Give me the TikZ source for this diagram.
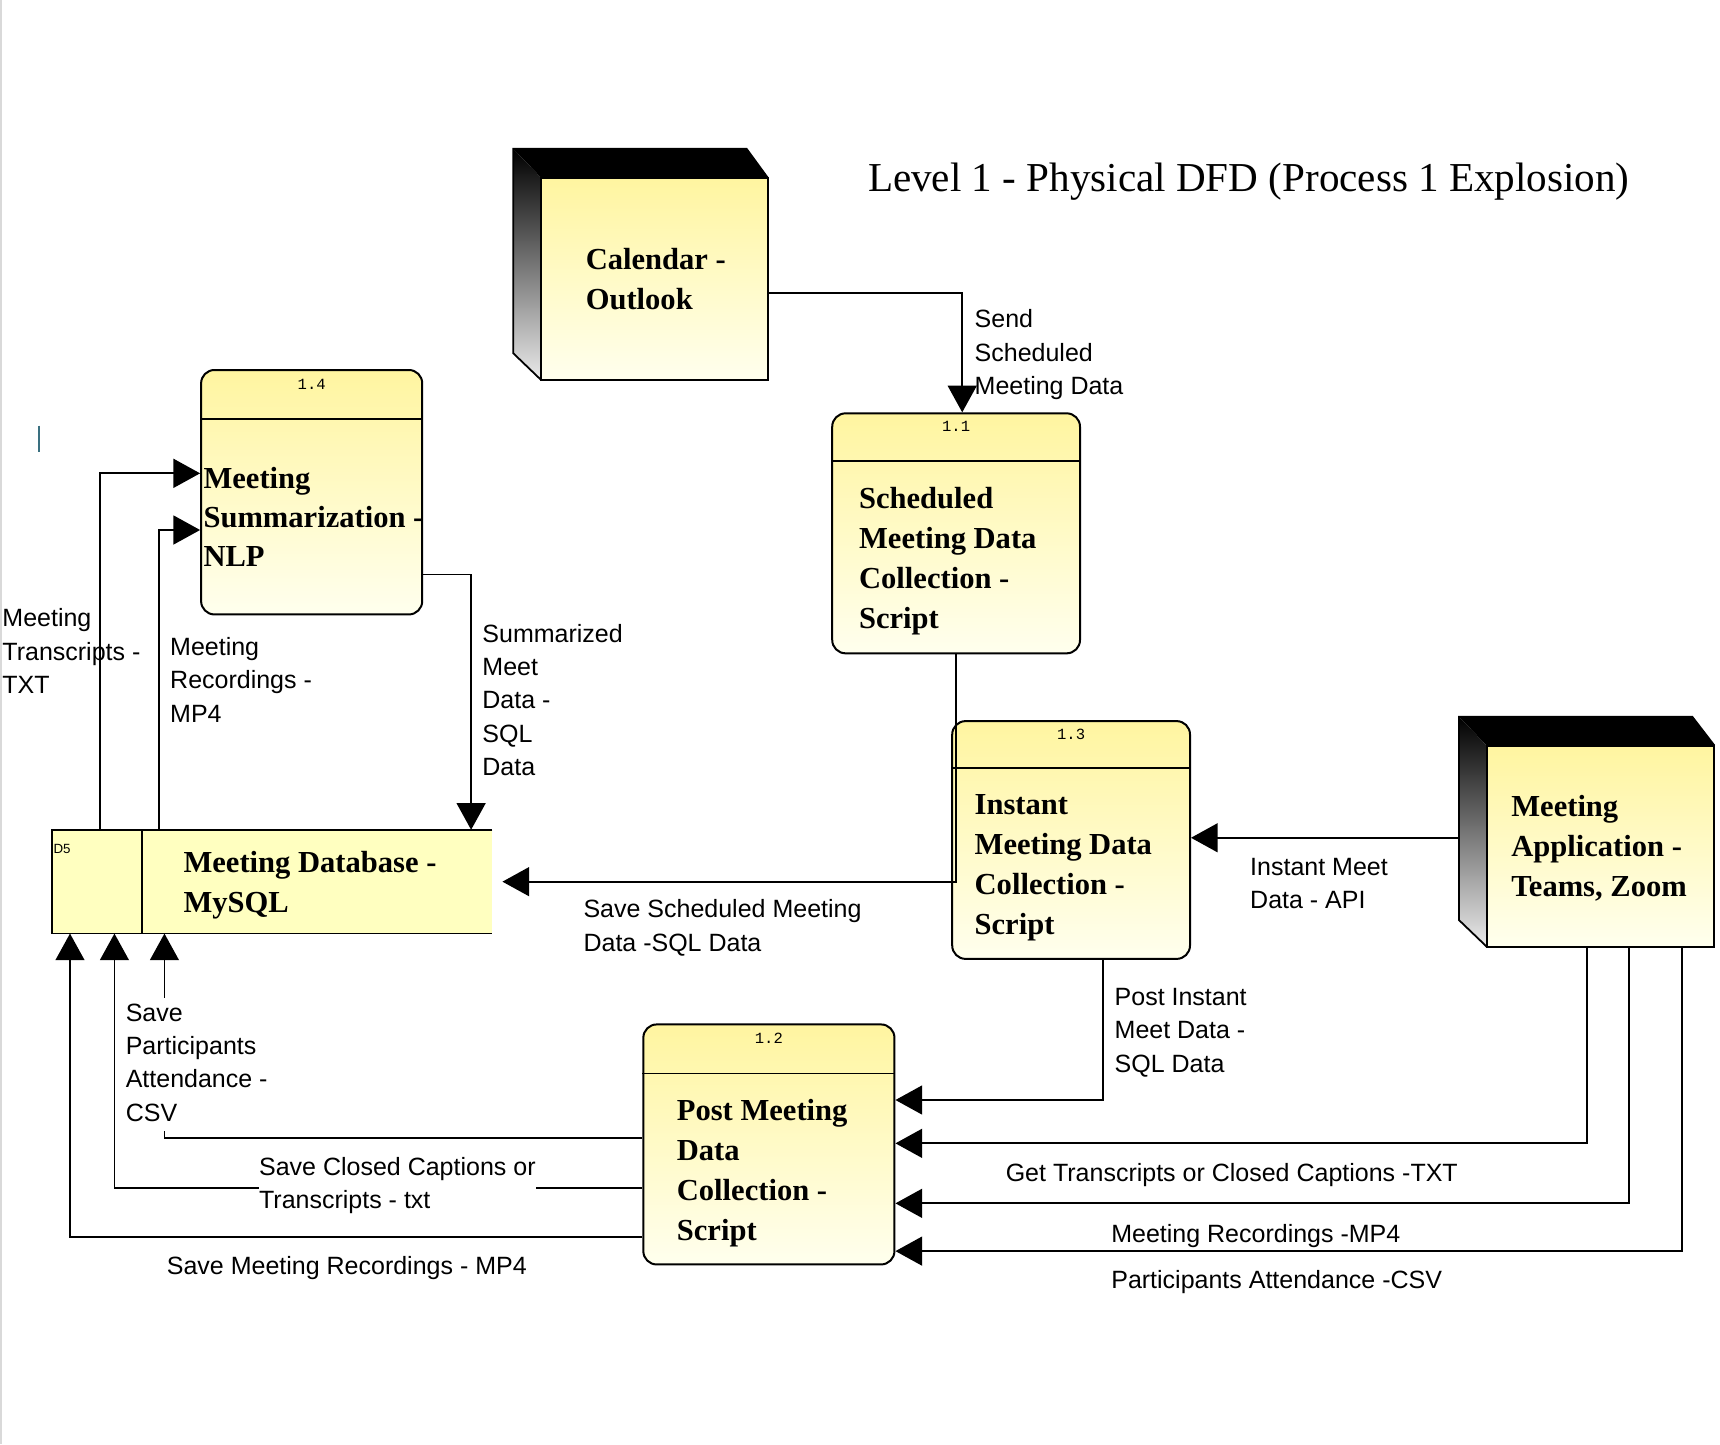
\documentclass[tikz,border=0pt]{standalone}
\usepackage{fontspec}
\setmainfont{Liberation Serif}
\setsansfont{Liberation Sans}
\setmonofont{Liberation Mono}
\usetikzlibrary{arrows.meta,calc}
\definecolor{yelTop}{HTML}{FFF5A0}
\definecolor{yelBot}{HTML}{FFFFEE}
\definecolor{dsFill}{HTML}{FFFFC0}
\definecolor{cursorc}{HTML}{3A7080}
\newcommand{\mlines}[1]{\begin{tabular}[t]{@{}l@{}}#1\end{tabular}}
\begin{document}
\begin{tikzpicture}[x=1pt,y=-1pt,
  flow/.style={line width=1.6pt, -{Triangle[length=24pt,width=26pt]}},
  plain/.style={line width=1.6pt},
  proc/.style={draw, line width=1.8pt, rounded corners=12pt, top color=yelTop, bottom color=yelBot, inner sep=0},
  ent/.style={draw, line width=1.8pt, top color=yelTop, bottom color=yelBot, inner sep=0},
  lab/.style={anchor=base west, inner sep=0, font=\sffamily\fontsize{22.5}{30}\selectfont},
  boldt/.style={anchor=base west, inner sep=0, font=\rmfamily\bfseries\fontsize{27.5}{36}\selectfont},
  pid/.style={font=\ttfamily\fontsize{14}{16}\selectfont, inner sep=0},
]
\useasboundingbox (0,0) rectangle (1548,1300);
\fill[white] (0,0) rectangle (1548,1300);
\draw[black!15, line width=2pt] (1,0) -- (1,1300);

% title
\node[anchor=base west, inner sep=0, font=\rmfamily\fontsize{37}{40}\selectfont] (title) at (781,172) {Level 1 - Physical DFD (Process 1 Explosion)};

% cursor mark
\draw[cursorc, line width=1.5pt] (35,383) -- (35,407);

% Calendar entity
\fill[black] (462,134) -- (672,134) -- (691,160) -- (487,160) -- cycle;
\shade[top color=black, bottom color=black!8] (462,134) -- (487,160) -- (487,342) -- (462,318) -- cycle;
\draw[line width=1.6pt] (487,342) -- (462,318) -- (462,134) -- (672,134) -- (691,160);
\node[ent, minimum width=204pt, minimum height=182pt] (cal) at (589,251) {};
\node[boldt] (calt) at (527,243) {\mlines{Calendar -\\Outlook}};

% Meeting application entity
\fill[black] (1313,645) -- (1523,645) -- (1543,671) -- (1338,671) -- cycle;
\shade[top color=black, bottom color=black!8] (1313,645) -- (1338,671) -- (1338,852) -- (1313,828) -- cycle;
\draw[line width=1.6pt] (1338,852) -- (1313,828) -- (1313,645) -- (1523,645) -- (1543,671);
\node[ent, minimum width=205pt, minimum height=181pt] (app) at (1440.5,761.5) {};
\node[boldt] (appt) at (1360,735) {\mlines{Meeting\\Application -\\Teams, Zoom}};

% processes
\node[proc, minimum width=223pt, minimum height=216pt] (p11) at (860.5,480) {};
\draw[plain] ([yshift=-44pt]p11.north west) -- ([yshift=-44pt]p11.north east);
\node[pid] (n11) at ([yshift=-13pt]p11.north) {1.1};
\node[boldt] (t11) at (773,458) {\mlines{Scheduled\\Meeting Data\\Collection -\\Script}};

\node[proc, minimum width=199pt, minimum height=220pt] (p14) at (280.5,443) {};
\draw[plain] ([yshift=-45pt]p14.north west) -- ([yshift=-45pt]p14.north east);
\node[pid] (n14) at ([yshift=-14pt]p14.north) {1.4};
\node[boldt, font=\rmfamily\bfseries\fontsize{27.5}{35}\selectfont] (t14) at (183,440) {\mlines{Meeting\\Summarization -\\NLP}};

\node[proc, minimum width=214pt, minimum height=214pt] (p13) at (964,756) {};
\draw[plain] ([yshift=-43pt]p13.north west) -- ([yshift=-43pt]p13.north east);
\node[pid] (n13) at ([yshift=-13pt]p13.north) {1.3};
\node[boldt] (t13) at (877,733) {\mlines{Instant\\Meeting Data\\Collection -\\Script}};

\node[proc, minimum width=226pt, minimum height=216pt] (p12) at (692,1030) {};
\draw[plain] ([yshift=-45pt]p12.north west) -- ([yshift=-45pt]p12.north east);
\node[pid] (n12) at ([yshift=-13pt]p12.north) {1.2};
\node[boldt] (t12) at (609,1008) {\mlines{Post Meeting\\Data\\Collection -\\Script}};

% data store
\node[fill=dsFill, minimum width=396pt, minimum height=93pt, inner sep=0] (db) at (245,793.5) {};
\draw[plain] (db.north east) -- (db.north west) -- (db.south west) -- (db.south east);
\draw[plain] ([xshift=81pt]db.north west) -- ([xshift=81pt]db.south west);
\node[anchor=west, inner sep=0, font=\sffamily\fontsize{12}{14}\selectfont] (dsid) at (48,764) {D5};
\node[boldt] (dbt) at (165,785) {\mlines{Meeting Database -\\MySQL}};

% flows
\draw[flow] ([yshift=-13pt]cal.east) -| ([xshift=5.5pt]p11.north);
\draw[flow] (p11.south) |- ([xshift=9pt]db.east);
\coordinate (appin) at ([xshift=-25pt,yshift=7.5pt]app.west);
\draw[flow] (appin) -- (appin -| p13.east);
\draw[flow] ([xshift=29pt]p13.south) |- ([yshift=40pt]p12.east);
\draw[flow] ([xshift=-12.5pt]app.south) |- ([yshift=1pt]p12.east);
\draw[flow] ([xshift=25.5pt]app.south) |- ([yshift=-53pt]p12.east);
\draw[flow] ([xshift=73.5pt]app.south) |- ([yshift=-96pt]p12.east);
\draw[flow] ([yshift=6pt]p12.west) -| ([xshift=-97pt]db.south);
\draw[flow] ([yshift=-39pt]p12.west) -| ([xshift=-142pt]db.south);
\draw[flow] ([yshift=-83pt]p12.west) -| ([xshift=-182pt]db.south);
\draw[flow] ([xshift=-155pt]db.north) |- ([yshift=17pt]p14.west);
\draw[flow] ([xshift=-102pt]db.north) |- ([yshift=-34pt]p14.west);
\draw[flow] ([yshift=-74pt]p14.east) -| ([xshift=179pt]db.north);

% flow labels
\node[lab] (l1) at (877,295) {\mlines{Send\\Scheduled\\Meeting Data}};
\node[lab] (l2) at (2,564) {\mlines{Meeting\\Transcripts -\\TXT}};
\node[lab] (l3) at (153,590) {\mlines{Meeting\\Recordings -\\MP4}};
\node[lab] (l4) at (434,578) {\mlines{Summarized\\Meet\\Data -\\SQL\\Data}};
\node[lab] (l5) at (525,826) {\mlines{Save Scheduled Meeting\\Data -SQL Data}};
\node[lab] (l6) at (1125,788) {\mlines{Instant Meet\\Data - API}};
\node[lab] (l7) at (1003,905) {\mlines{Post Instant\\Meet Data -\\SQL Data}};
\node[lab, fill=white] (l8) at (113,919) {\mlines{Save\\Participants\\Attendance -\\CSV}};
\node[lab, fill=white] (l9) at (233,1058) {\mlines{Save Closed Captions or\\Transcripts - txt}};
\node[lab] (l10) at (150,1147) {Save Meeting Recordings - MP4};
\node[lab] (l11) at (905,1063) {Get Transcripts or Closed Captions -TXT};
\node[lab] (l12) at (1000,1118) {Meeting Recordings -MP4};
\node[lab] (l13) at (1000,1160) {Participants Attendance -CSV};
\end{tikzpicture}
\end{document}
